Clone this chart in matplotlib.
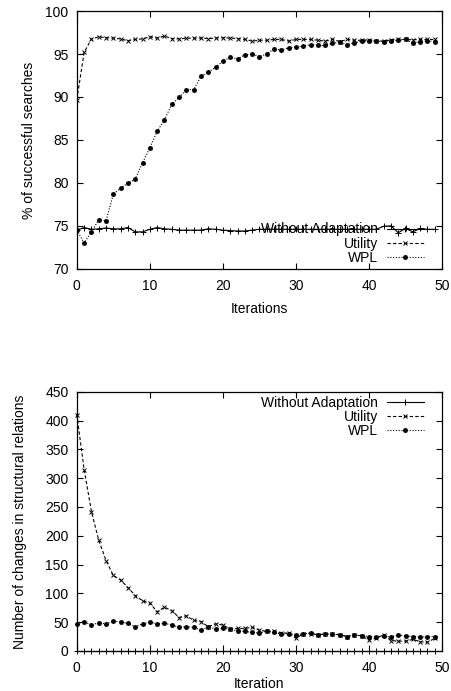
import numpy as np
import matplotlib
matplotlib.use("Agg")
import matplotlib.pyplot as plt

# ==============================
# Data
# ==============================
iters = list(range(50))

# top: % of successful searches
succ_without = [74.5, 74.8, 74.6, 74.65, 74.75, 74.65, 74.65, 74.8, 74.3, 74.3,
                74.6, 74.8, 74.65, 74.6, 74.5, 74.5, 74.5, 74.5, 74.65, 74.6,
                74.5, 74.45, 74.4, 74.4, 74.5, 74.6, 74.6, 74.6, 74.6, 74.6,
                74.6, 74.6, 74.6, 74.6, 74.6, 74.6, 74.6, 74.6, 74.6, 74.6,
                74.6, 74.6, 74.95, 75.0, 74.2, 74.7, 74.3, 74.7, 74.6, 74.6]
succ_utility = [89.7, 95.2, 96.75, 97.0, 96.9, 96.85, 96.75, 96.55, 96.7, 96.75,
                97.0, 96.85, 97.1, 96.8, 96.75, 96.85, 96.85, 96.85, 96.8, 96.85,
                96.9, 96.85, 96.8, 96.7, 96.5, 96.6, 96.6, 96.7, 96.7, 96.5,
                96.7, 96.7, 96.7, 96.6, 96.5, 96.7, 96.45, 96.7, 96.6, 96.6,
                96.65, 96.55, 96.5, 96.65, 96.7, 96.7, 96.65, 96.7, 96.7, 96.7]
succ_wpl = [74.5, 73.0, 74.3, 75.7, 75.6, 78.7, 79.4, 79.95, 80.45, 82.35,
            84.1, 86.0, 87.35, 89.15, 89.95, 90.85, 90.85, 92.4, 92.9, 93.45,
            94.2, 94.6, 94.45, 94.9, 95.0, 94.7, 95.0, 95.6, 95.45, 95.75,
            95.8, 95.9, 96.1, 96.0, 96.0, 96.25, 96.35, 96.1, 96.3, 96.5,
            96.5, 96.5, 96.45, 96.55, 96.6, 96.7, 96.25, 96.45, 96.55, 96.45]

# bottom: number of changes in structural relations
chg_without = [0] * 50
chg_utility = [410, 315, 242, 192, 157, 131, 123, 110, 96, 87,
               83, 68, 76, 70, 58, 61, 53, 51, 42, 47,
               45, 38, 39, 39, 41, 36, 34, 34, 31, 31,
               22, 30, 30, 28, 29, 29, 28, 25, 28, 26,
               19, 22, 28, 18, 17, 17, 20, 16, 15, 22]
chg_wpl = [47, 51, 45, 49, 47, 52, 50, 48, 42, 47,
           50, 47, 48, 45, 41, 42, 41, 36, 42, 38,
           39, 38, 34, 34, 32, 31, 34, 32, 29, 30,
           28, 30, 31, 28, 30, 29, 28, 25, 28, 26,
           25, 24, 26, 24, 28, 26, 25, 24, 25, 25]

labels = ['Without Adaptation', 'Utility', 'WPL']

# ==============================
# Style
# ==============================
plt.rcParams['font.family'] = ['Liberation Sans', 'DejaVu Sans']
plt.rcParams['font.size'] = 10

star = (8, 2, 0)
styles = [
    dict(color='black', lw=0.8, ls='-', marker='+', ms=4, mew=0.7),
    dict(color='black', lw=0.8, ls=(0, (3, 2)), marker='x', ms=3.5, mew=0.7),
    dict(color='black', lw=0.8, ls=(0, (1, 1.5)), marker=star, ms=3.5, mew=0.8),
]

fig = plt.figure(figsize=(4.52, 6.91), dpi=100)
ax1 = fig.add_axes([0.170, 0.611, 0.808, 0.373])
ax2 = fig.add_axes([0.170, 0.058, 0.808, 0.375])

leg_kw = dict(frameon=False, markerfirst=False, numpoints=1,
              handlelength=2.7, handletextpad=0.65, labelspacing=0.02,
              borderpad=0, borderaxespad=0)


def style_axis(ax):
    ax.tick_params(direction='in', top=True, right=True, length=4, width=0.8)
    ax.tick_params(axis='x', pad=7)
    ax.tick_params(axis='y', pad=6)
    for s in ax.spines.values():
        s.set_linewidth(0.9)


# ==============================
# Top plot
# ==============================
for ys, lab, st in zip([succ_without, succ_utility, succ_wpl], labels, styles):
    ax1.plot(iters, ys, label=lab, **st)
ax1.set_xlim(0, 50)
ax1.set_ylim(70, 100)
ax1.set_xticks(range(0, 51, 10))
ax1.set_yticks(range(70, 101, 5))
ax1.set_xlabel('Iterations', labelpad=7)
ax1.set_ylabel('% of successful searches', labelpad=7)
style_axis(ax1)
ax1.legend(loc='lower right', bbox_to_anchor=(0.951, 0.015), **leg_kw)

# ==============================
# Bottom plot
# ==============================
for ys, lab, st in zip([chg_without, chg_utility, chg_wpl], labels, styles):
    ax2.plot(iters, ys, label=lab, clip_on=False, **st)
ax2.set_xlim(0, 50)
ax2.set_ylim(0, 450)
ax2.set_xticks(range(0, 51, 10))
ax2.set_yticks(range(0, 451, 50))
ax2.set_xlabel('Iteration', labelpad=2)
ax2.set_ylabel('Number of changes in structural relations', labelpad=13)
style_axis(ax2)
ax2.legend(loc='upper right', bbox_to_anchor=(0.951, 0.985), **leg_kw)

fig.savefig('out.png', dpi=100)
